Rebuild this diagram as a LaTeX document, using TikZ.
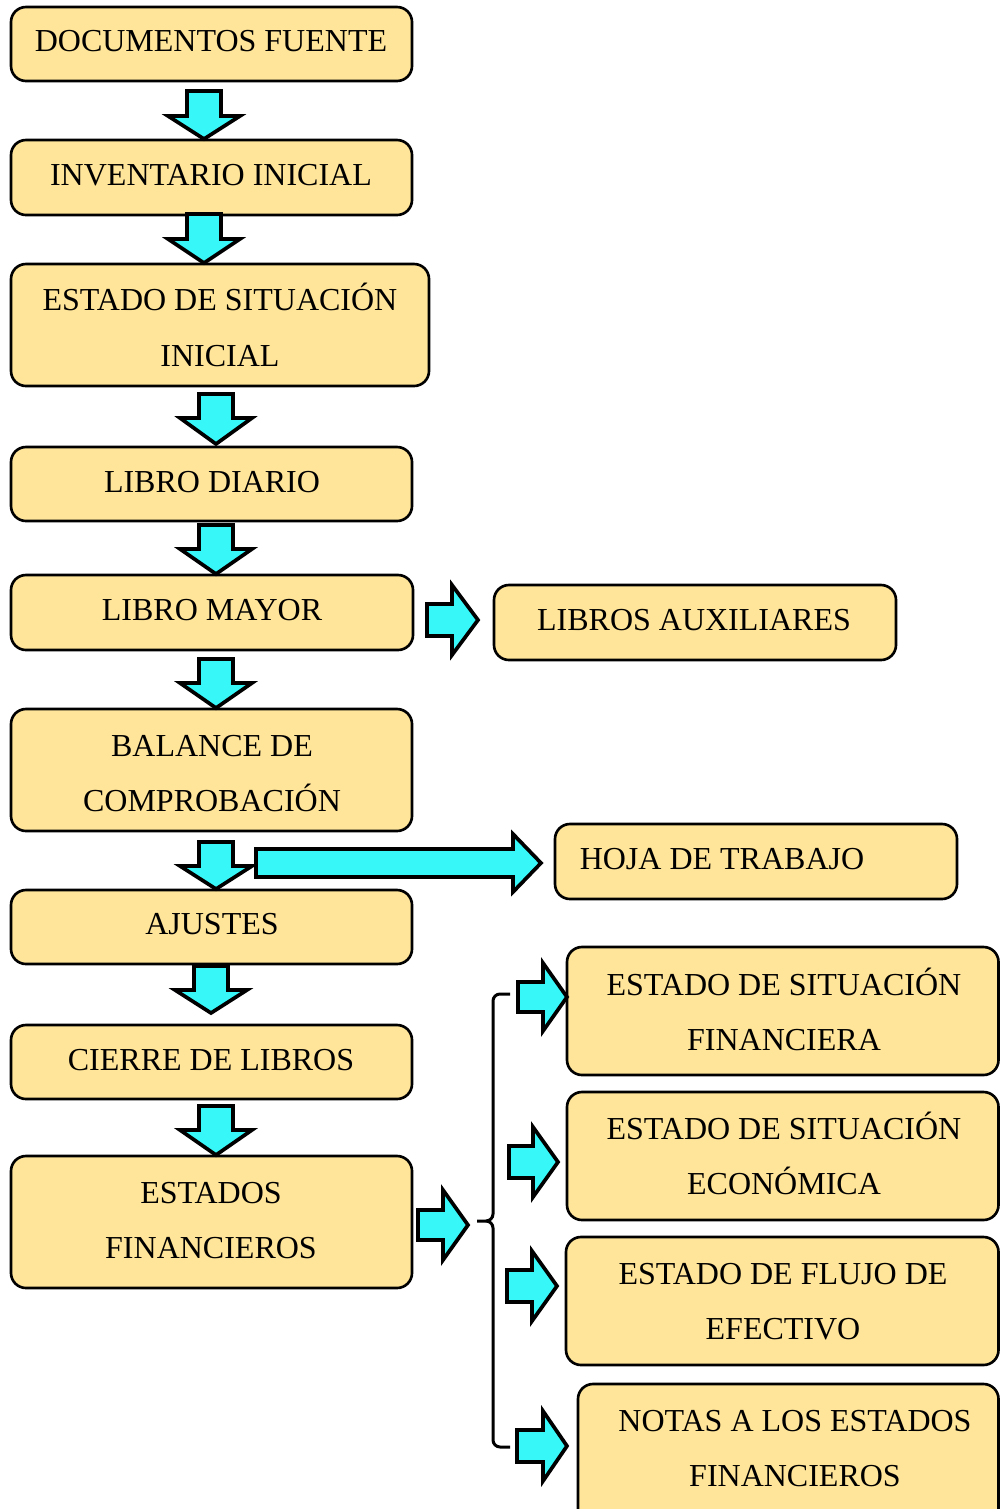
\documentclass[tikz,border=0pt]{standalone}
\usepackage{fontspec}
\setmainfont{Liberation Serif}
\definecolor{boxfill}{RGB}{255,229,153}
\definecolor{arrfill}{RGB}{56,247,248}
\begin{document}
\begin{tikzpicture}[x=0.01cm,y=-0.01cm,
  box/.style={draw=black,line width=0.75pt,fill=boxfill,rounded corners=0.15cm,inner sep=0pt},
  lbl/.style={inner sep=0pt,anchor=center,align=center,font=\fontsize{9.1}{15.65}\selectfont},
  blk/.style={draw=black,line width=1.05pt,fill=arrfill,line join=miter},
  brk/.style={draw=black,line width=0.85pt}]
\useasboundingbox (0,0) rectangle (1000,1509);
\clip (0,0) rectangle (1000,1509);
% boxes: \bx{name}{x1}{y1}{x2}{y2}
\newcommand\bx[5]{\node[box,minimum width={(#4-#2)*0.01cm},minimum height={(#5-#3)*0.01cm}] (#1) at ({(#2+#4)/2},{(#3+#5)/2}) {};}
\bx{b1}{11}{7}{412}{81}
\bx{b2}{11}{140}{412}{215}
\bx{b3}{11}{264}{429}{386}
\bx{b4}{11}{447}{412}{521}
\bx{b5}{11}{575}{413}{650}
\bx{b6}{494}{585}{896}{660}
\bx{b7}{11}{709}{412}{831}
\bx{b8}{555}{824}{957}{899}
\bx{b9}{11}{890}{412}{964}
\bx{b10}{11}{1025}{412}{1099}
\bx{b11}{11}{1156}{412}{1288}
\bx{b12}{567}{947}{998.5}{1075}
\bx{b13}{567}{1092}{998.5}{1220}
\bx{b14}{566}{1237}{998.5}{1365}
\bx{b15}{578}{1384}{998.5}{1525}
% texts
\node[lbl] (t1) at (211,40) {\strut DOCUMENTOS FUENTE};
\node[lbl] (t2) at (211,174) {\strut INVENTARIO INICIAL};
\node[lbl] (t3) at (220,327.5) {\strut ESTADO DE SITUACIÓN\\\strut INICIAL};
\node[lbl] (t4) at (212,481) {\strut LIBRO DIARIO};
\node[lbl] (t5) at (212,609) {\strut LIBRO MAYOR};
\node[lbl] (t6) at (694,619) {\strut LIBROS AUXILIARES};
\node[lbl] (t7) at (212,772.5) {\strut BALANCE DE\\\strut COMPROBACIÓN};
\node[lbl] (t8) at (722,858) {\strut HOJA DE TRABAJO};
\node[lbl] (t9) at (212,923) {\strut AJUSTES};
\node[lbl] (t10) at (211,1059) {\strut CIERRE DE LIBROS};
\node[lbl] (t11) at (211,1219.5) {\strut ESTADOS\\\strut FINANCIEROS};
\node[lbl] (t12) at (784,1011.5) {\strut ESTADO DE SITUACIÓN\\\strut FINANCIERA};
\node[lbl] (t13) at (784,1155.5) {\strut ESTADO DE SITUACIÓN\\\strut ECONÓMICA};
\node[lbl] (t14) at (783,1300.5) {\strut ESTADO DE FLUJO DE\\\strut EFECTIVO};
\node[lbl] (t15) at (795,1447.5) {\strut NOTAS A LOS ESTADOS\\\strut FINANCIEROS};
% down block arrows: \darr{cx}{top}{head}{tip}
\newcommand\darr[4]{\draw[blk] ({#1-17},#2) -- ({#1+17},#2) -- ({#1+17},#3) -- ({#1+36},#3) -- (#1,#4) -- ({#1-36},#3) -- ({#1-17},#3) -- cycle;}
\darr{204}{91}{116}{139}
\darr{204}{214}{239}{263}
\darr{216}{394}{418}{444}
\darr{216}{525}{549}{574}
\darr{216}{659}{683}{708}
\darr{216}{842}{866}{889}
\darr{211}{966}{990}{1013}
\darr{216}{1106}{1130}{1155}
% right block arrows: \rarr{xl}{xhead}{xtip}{yc}{shafthalf}{headhalf}
\newcommand\rarr[6]{\draw[blk] (#1,{#4-#5}) -- (#2,{#4-#5}) -- (#2,{#4-#6}) -- (#3,#4) -- (#2,{#4+#6}) -- (#2,{#4+#5}) -- (#1,{#4+#5}) -- cycle;}
\rarr{427}{452}{478}{620}{16}{35}
\rarr{256}{513}{541}{863}{14}{29}
\rarr{418}{443}{468}{1225}{15}{35}
\rarr{518}{543}{567}{997}{15}{34}
\rarr{509}{533}{558}{1162}{16}{35}
\rarr{507}{532}{557}{1286}{16}{35}
\rarr{517}{543}{567}{1446}{16}{35}
% bracket
\coordinate (bt) at (510,994);
\coordinate (bm) at (477,1221);
\coordinate (bb) at (510,1447);
\draw[brk] (bt) -- (500,994) to[out=180,in=90] (493,1001) -- (493,1214) to[out=-90,in=0] (486,1221) -- (bm);
\draw[brk] (486,1221) to[out=0,in=90] (493,1228) -- (493,1440) to[out=-90,in=180] (500,1447) -- (bb);
\end{tikzpicture}
\end{document}
